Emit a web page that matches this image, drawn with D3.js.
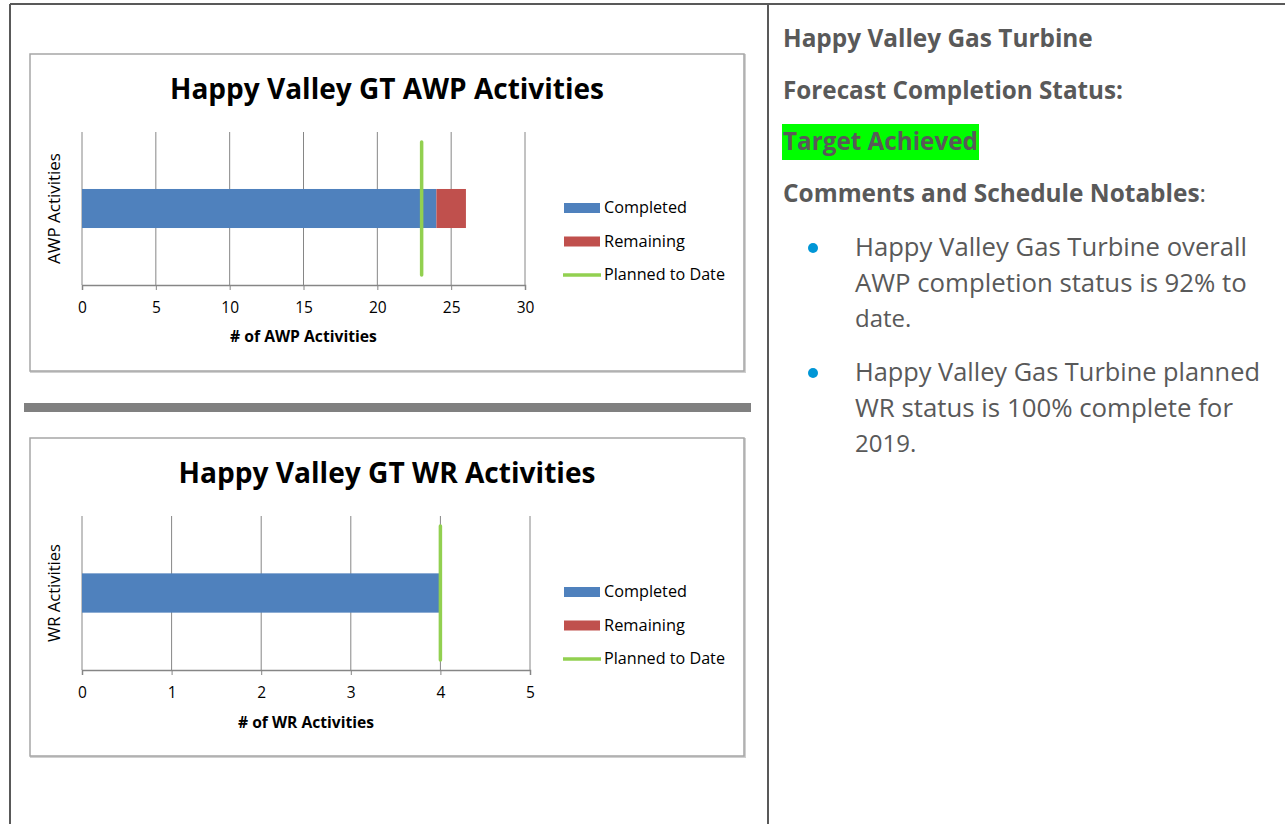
<!DOCTYPE html>
<html><head><meta charset="utf-8">
<script src="https://cdn.jsdelivr.net/npm/d3@7"></script>
<style>
html,body{margin:0;padding:0;background:#fff;}
svg{display:block;font-family:"Open Sans",Lato,sans-serif;}
</style></head>
<body>
<svg id="c" width="1285" height="824"></svg>
<script>
// ---- data ----
const awpCategories = ["AWP Activities"];
const awpCompleted = [24];
const awpRemaining = [2];
const awpPlanned = [23];
const awpTicks = [0, 5, 10, 15, 20, 25, 30];

const wrCategories = ["WR Activities"];
const wrCompleted = [4];
const wrRemaining = [0];
const wrPlanned = [4];
const wrTicks = [0, 1, 2, 3, 4, 5];

const legendLabels = ["Completed", "Remaining", "Planned to Date"];
const panelHeadings = ["Happy Valley Gas Turbine", "Forecast Completion Status:"];
const statusText = "Target Achieved";
const notesHeading = "Comments and Schedule Notables";
const bullets = [
  ["Happy Valley Gas Turbine overall", "AWP completion status is 92% to", "date."],
  ["Happy Valley Gas Turbine planned", "WR status is 100% complete for", "2019."]
];

const C_BLUE = "#4f81bd", C_RED = "#c0504d", C_GREEN = "#92d050";
const svg = d3.select("#c");

// scale a text's font size so that it spans a given width (Calibri substitute)
function fit(sel, w) {
  const fs = +sel.attr("font-size");
  const l = sel.node().getComputedTextLength();
  if (l > 0) sel.attr("font-size", (fs * w / l).toFixed(2));
  return sel;
}

// page frame
svg.append("line").attr("x1",10).attr("x2",1285).attr("y1",4).attr("y2",4).attr("stroke","#595959").attr("stroke-width",2);
svg.append("line").attr("x1",10).attr("x2",10).attr("y1",4).attr("y2",824).attr("stroke","#595959").attr("stroke-width",2);
svg.append("line").attr("x1",768).attr("x2",768).attr("y1",4).attr("y2",824).attr("stroke","#595959").attr("stroke-width",2);
// separator
svg.append("rect").attr("x",24).attr("y",403).attr("width",727).attr("height",9).attr("fill","#808080");

function drawChart(cfg) {
  const g = svg.append("g").attr("transform", `translate(${cfg.bx},${cfg.by})`);
  // box
  g.append("rect").attr("x",1).attr("y",1).attr("width",cfg.bw).attr("height",cfg.bh).attr("fill","none").attr("stroke","#d0d0d0").attr("stroke-width",2);
  g.append("rect").attr("x",0).attr("y",0).attr("width",cfg.bw).attr("height",cfg.bh).attr("fill","#fff").attr("stroke","#a6a6a6").attr("stroke-width",1.5);

  const x = d3.scaleLinear().domain([cfg.ticks[0], cfg.ticks[cfg.ticks.length-1]]).range([cfg.px0, cfg.px1]);
  const y = d3.scaleBand().domain(cfg.cats).range([cfg.py0, cfg.py1]).paddingInner(0).paddingOuter(1.46);
  const yl = d3.scaleLinear().domain([0,1]).range([cfg.py1, cfg.py0]);

  // title
  fit(g.append("text").attr("x", cfg.titleX).attr("y", cfg.titleY).attr("text-anchor","middle")
    .attr("font-weight","bold").attr("font-size",26).attr("fill","#000").text(cfg.title), cfg.titleW);

  // gridlines
  g.append("g").selectAll("line").data(cfg.ticks).join("line")
    .attr("x1", d=>x(d)).attr("x2", d=>x(d)).attr("y1", cfg.py0).attr("y2", cfg.py1)
    .attr("stroke","#868686").attr("stroke-width",1);

  // x axis
  const ax = g.append("g").attr("transform",`translate(0,${cfg.py1})`)
    .call(d3.axisBottom(x).tickValues(cfg.ticks).tickSize(5).tickPadding(12).tickFormat(d3.format("d")));
  ax.select(".domain").attr("stroke","#868686").attr("stroke-width",1.5);
  ax.selectAll(".tick line").attr("stroke","#868686");
  ax.selectAll(".tick text").attr("font-size",15.5).attr("fill","#000").attr("font-family","'Open Sans',sans-serif");

  // axis titles
  fit(g.append("text").attr("x",(cfg.px0+cfg.px1)/2).attr("y",cfg.xTitleY).attr("text-anchor","middle")
    .attr("font-weight","bold").attr("font-size",15).text(cfg.xTitle), cfg.xTitleW);
  fit(g.append("text").attr("transform",`translate(${cfg.yTitleX},${(cfg.py0+cfg.py1)/2}) rotate(-90)`)
    .attr("text-anchor","middle").attr("font-size",15).text(cfg.cats[0]), cfg.yTitleW);

  // bars
  const rows = cfg.cats.map((c,i)=>({c, comp: cfg.comp[i], rem: cfg.rem[i], plan: cfg.plan[i]}));
  g.append("g").selectAll("rect").data(rows).join("rect")
    .attr("x", d=>x(0)).attr("y", d=>y(d.c)).attr("width", d=>x(d.comp)-x(0)).attr("height", y.bandwidth())
    .attr("fill", C_BLUE);
  g.append("g").selectAll("rect").data(rows.filter(d=>d.rem>0)).join("rect")
    .attr("x", d=>x(d.comp)).attr("y", d=>y(d.c)).attr("width", d=>x(d.comp+d.rem)-x(d.comp)).attr("height", y.bandwidth())
    .attr("fill", C_RED);
  // planned line
  g.append("g").selectAll("line").data(rows).join("line")
    .attr("x1", d=>x(d.plan)).attr("x2", d=>x(d.plan)).attr("y1", yl(0.935)).attr("y2", yl(0.065))
    .attr("stroke", C_GREEN).attr("stroke-width",3.5).attr("stroke-linecap","round");

  // legend
  const lg = g.append("g").attr("transform",`translate(${cfg.lx},${cfg.ly})`);
  const lw = [83, 81, 121];
  legendLabels.forEach((lab,i)=>{
    const yy = i*cfg.lgap;
    if (i<2) lg.append("rect").attr("x",0).attr("y",yy-5).attr("width",36).attr("height",10).attr("fill", i===0?C_BLUE:C_RED);
    else lg.append("line").attr("x1",-1).attr("x2",37).attr("y1",yy).attr("y2",yy).attr("stroke",C_GREEN).attr("stroke-width",3.5);
    fit(lg.append("text").attr("x",40).attr("y",yy+5).attr("font-size",15).text(lab), lw[i]);
  });
}

drawChart({bx:30,by:54,bw:714,bh:317,title:"Happy Valley GT AWP Activities",titleX:357,titleY:45,titleW:434,
  ticks:awpTicks,cats:awpCategories,comp:awpCompleted,rem:awpRemaining,plan:awpPlanned,
  px0:52,px1:495,py0:78,py1:231,xTitle:"# of AWP Activities",xTitleY:288,xTitleW:147,yTitleX:30,yTitleW:111,lx:534,ly:154,lgap:33.5});
drawChart({bx:30,by:438,bw:714,bh:318,title:"Happy Valley GT WR Activities",titleX:357,titleY:45,titleW:417,
  ticks:wrTicks,cats:wrCategories,comp:wrCompleted,rem:wrRemaining,plan:wrPlanned,
  px0:52,px1:500,py0:78,py1:232,xTitle:"# of WR Activities",xTitleY:290,xTitleW:136,yTitleX:30,yTitleW:98,lx:534,ly:154,lgap:33.5});

// right panel
const rp = svg.append("g");
const GRAY = "#595959";
fit(rp.append("text").attr("x",783).attr("y",47).attr("font-weight","bold").attr("font-size",22).attr("fill",GRAY).text(panelHeadings[0]), 310);
fit(rp.append("text").attr("x",783).attr("y",99).attr("font-weight","bold").attr("font-size",22).attr("fill",GRAY).text(panelHeadings[1]), 340);
rp.append("rect").attr("x",782).attr("y",124).attr("width",197).attr("height",36).attr("fill","#00ff00");
fit(rp.append("text").attr("x",783).attr("y",150).attr("font-weight","bold").attr("font-size",22).attr("fill",GRAY).text(statusText), 195);
const nt = rp.append("text").attr("x",783).attr("y",202).attr("font-size",22).attr("fill",GRAY);
nt.append("tspan").attr("font-weight","bold").text(notesHeading);
nt.append("tspan").text(":");
fit(nt, 423);
const bw = [[392, 392], [405, 378]];
bullets.forEach((b,i)=>{
  const by = 256 + i*125;
  rp.append("circle").attr("cx",813).attr("cy",by-8).attr("r",5).attr("fill","#0096d6");
  b.forEach((ln,j)=>{
    const t = rp.append("text").attr("x",855).attr("y",by + j*35.5).attr("font-size",24).attr("fill",GRAY).text(ln);
    if (j < 2) fit(t, bw[i][j]);
  });
});
</script>
</body></html>
